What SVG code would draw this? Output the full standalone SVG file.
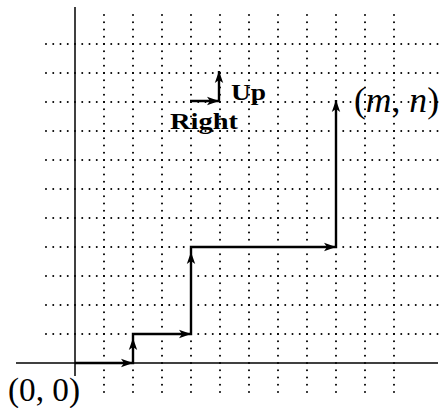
<svg xmlns="http://www.w3.org/2000/svg" width="440" height="408" viewBox="0 0 440 408">
<style>
.dot{stroke:#000;stroke-width:2;stroke-linecap:round;stroke-dasharray:0 7.25;fill:none}
.axis{stroke:#000;stroke-width:1.5;fill:none}
.walk{stroke:#000;stroke-width:2.4;fill:none;stroke-linejoin:miter;stroke-linecap:butt}
.bold{font-family:"Liberation Serif","Times New Roman",serif;font-weight:bold;font-size:23px;fill:#000}
.math{font-family:"Liberation Serif","Times New Roman",serif;fill:#000}
</style>
<defs>
<path id="ah" d="M0,0 L-12,-4.2 L-9,0 L-12,4.2 Z" fill="#000"/>
</defs>
<rect width="440" height="408" fill="#fff"/>
<g id="grid">
<path class="dot" d="M46,334H438M46,305H438M46,276H438M46,247H438M46,218H438M46,189H438M46,160H438M46,131H438M46,102H438M46,73H438M46,44H438"/>
<path class="dot" d="M104,392V13M133,392V13M162,392V13M191,392V13M220,392V13M249,392V13M278,392V13M307,392V13M336,392V13M365,392V13M394,392V13"/>
</g>
<g id="axes">
<line class="axis" x1="16" y1="363" x2="438" y2="363"/>
<line class="axis" x1="75" y1="7" x2="75" y2="376"/>
</g>
<g id="connectors">
<polyline class="walk" points="75,363 133,363 133,334 191,334 191,247 336,247 336,100"/>
<use href="#ah" transform="translate(133,363)"/>
<use href="#ah" transform="translate(133,338) rotate(-90)"/>
<use href="#ah" transform="translate(191,334)"/>
<use href="#ah" transform="translate(191,252) rotate(-90)"/>
<use href="#ah" transform="translate(336,247)"/>
<use href="#ah" transform="translate(336,100) rotate(-90)"/>
<polyline class="walk" points="190,101 219,101 219,71"/>
<use href="#ah" transform="translate(219,101)"/>
<use href="#ah" transform="translate(219,71) rotate(-90)"/>
</g>
<g id="label-up"><text class="bold" x="231" y="100" textLength="35" lengthAdjust="spacingAndGlyphs">Up</text></g>
<g id="label-right"><text class="bold" x="170" y="129" textLength="68" lengthAdjust="spacingAndGlyphs">Right</text></g>
<g id="label-mn"><text class="math" x="354" y="112" font-size="35" textLength="85" lengthAdjust="spacingAndGlyphs">(<tspan font-style="italic">m</tspan>, <tspan font-style="italic">n</tspan>)</text></g>
<g id="label-origin"><text class="math" x="8" y="401" font-size="33" textLength="72" lengthAdjust="spacingAndGlyphs">(0, 0)</text></g>
</svg>
